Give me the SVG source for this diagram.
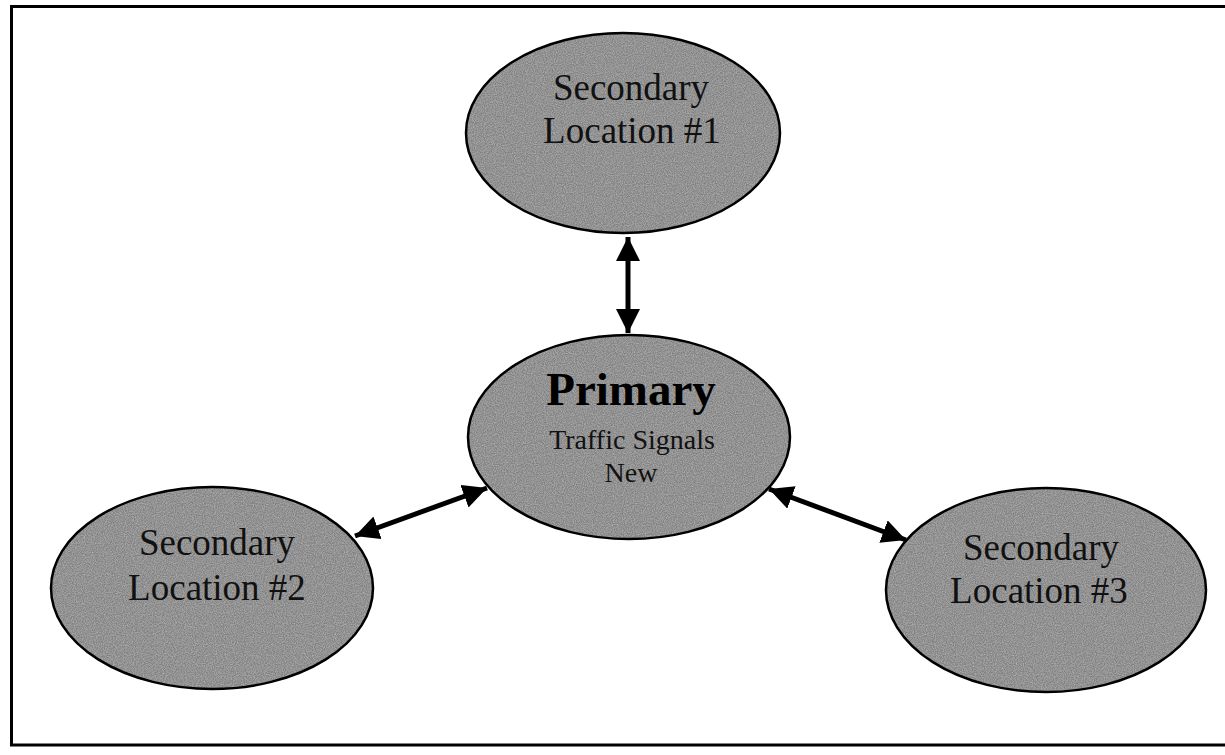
<svg xmlns="http://www.w3.org/2000/svg" width="1225" height="755" viewBox="0 0 1225 755">
<style>
.fillg{fill:#828282;stroke:none}
.edge{fill:none;stroke:#000;stroke-width:2.5}
.lbl{font-family:"Liberation Serif","Times New Roman",serif;font-size:37px;fill:#111;text-anchor:middle}
.title{font-family:"Liberation Serif","Times New Roman",serif;font-size:47px;font-weight:bold;fill:#000;text-anchor:middle}
.sub{font-family:"Liberation Serif","Times New Roman",serif;font-size:28px;fill:#111;text-anchor:middle}
.conn{stroke:#000;stroke-width:5;fill:none;marker-start:url(#ah);marker-end:url(#ah)}
</style>
<defs>
<filter id="grain" x="0" y="0" width="100%" height="100%">
<feTurbulence type="fractalNoise" baseFrequency="0.9" numOctaves="2" seed="3" result="n"/>
<feColorMatrix in="n" type="matrix" values="0 0 0 0 0.45  0 0 0 0 0.45  0 0 0 0 0.45  0 0 0 1.6 -0.5" result="g"/>
<feComposite in="g" in2="SourceGraphic" operator="in" result="gc"/>
<feMerge><feMergeNode in="SourceGraphic"/><feMergeNode in="gc"/></feMerge>
</filter>
<marker id="ah" viewBox="0 0 10 10" refX="10" refY="5" markerWidth="4.8" markerHeight="4.8" orient="auto-start-reverse" markerUnits="strokeWidth">
<path d="M0,0 L10,5 L0,10 z" fill="#000"/>
</marker>
</defs>
<rect x="0" y="0" width="1225" height="755" fill="#fff"/>
<rect x="11.5" y="6.5" width="1220" height="738.5" fill="none" stroke="#000" stroke-width="3"/>
<g id="connectors">
<line class="conn" x1="628" y1="237" x2="628" y2="333"/>
<line class="conn" x1="355" y1="536" x2="487" y2="488"/>
<line class="conn" x1="769" y1="489" x2="906" y2="540"/>
</g>
<g id="secondary1">
<ellipse class="fillg" filter="url(#grain)" cx="623" cy="133" rx="157" ry="100"/>
<ellipse class="edge" cx="623" cy="133" rx="157" ry="100"/>
<text class="lbl" x="631" y="100">Secondary</text>
<text class="lbl" x="632" y="143">Location #1</text>
</g>
<g id="primary">
<ellipse class="fillg" filter="url(#grain)" cx="629" cy="437" rx="161" ry="102"/>
<ellipse class="edge" cx="629" cy="437" rx="161" ry="102"/>
<text class="title" x="631" y="405">Primary</text>
<text class="sub" x="632" y="449">Traffic Signals</text>
<text class="sub" x="631" y="482">New</text>
</g>
<g id="secondary2">
<ellipse class="fillg" filter="url(#grain)" cx="212" cy="588" rx="161" ry="101"/>
<ellipse class="edge" cx="212" cy="588" rx="161" ry="101"/>
<text class="lbl" x="217" y="555">Secondary</text>
<text class="lbl" x="217" y="600">Location #2</text>
</g>
<g id="secondary3">
<ellipse class="fillg" filter="url(#grain)" cx="1046" cy="590" rx="160" ry="102"/>
<ellipse class="edge" cx="1046" cy="590" rx="160" ry="102"/>
<text class="lbl" x="1041" y="560">Secondary</text>
<text class="lbl" x="1039" y="603">Location #3</text>
</g>
</svg>
